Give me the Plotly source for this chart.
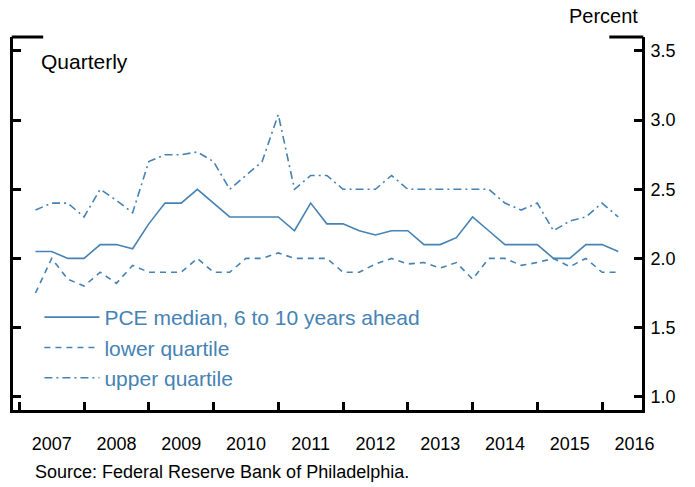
import plotly.graph_objects as go

# ---- data ----
quarters = ["2007Q2","2007Q3","2007Q4","2008Q1","2008Q2","2008Q3","2008Q4","2009Q1","2009Q2","2009Q3",
            "2009Q4","2010Q1","2010Q2","2010Q3","2010Q4","2011Q1","2011Q2","2011Q3","2011Q4","2012Q1",
            "2012Q2","2012Q3","2012Q4","2013Q1","2013Q2","2013Q3","2013Q4","2014Q1","2014Q2","2014Q3",
            "2014Q4","2015Q1","2015Q2","2015Q3","2015Q4","2016Q1","2016Q2"]
median = [2.05, 2.05, 2.00, 2.00, 2.10, 2.10, 2.07, 2.25, 2.40, 2.40,
          2.50, 2.40, 2.30, 2.30, 2.30, 2.30, 2.20, 2.40, 2.25, 2.25,
          2.20, 2.17, 2.20, 2.20, 2.10, 2.10, 2.15, 2.30, 2.20, 2.10,
          2.10, 2.10, 2.00, 2.00, 2.10, 2.10, 2.05]
lower = [1.75, 2.00, 1.85, 1.80, 1.90, 1.82, 1.95, 1.90, 1.90, 1.90,
         2.00, 1.90, 1.90, 2.00, 2.00, 2.04, 2.00, 2.00, 2.00, 1.90,
         1.90, 1.96, 2.00, 1.96, 1.97, 1.93, 1.97, 1.85, 2.00, 2.00,
         1.95, 1.97, 2.00, 1.94, 2.00, 1.90, 1.90]
upper = [2.35, 2.40, 2.40, 2.30, 2.50, 2.42, 2.33, 2.70, 2.75, 2.75,
         2.77, 2.70, 2.50, 2.60, 2.70, 3.04, 2.50, 2.60, 2.60, 2.50,
         2.50, 2.50, 2.60, 2.50, 2.50, 2.50, 2.50, 2.50, 2.50, 2.40,
         2.35, 2.40, 2.20, 2.27, 2.30, 2.40, 2.30]
years = list(range(2007, 2017))
year_labels = [str(y) for y in years]
y_ticks = [1.0, 1.5, 2.0, 2.5, 3.0, 3.5]
y_labels = ["1.0", "1.5", "2.0", "2.5", "3.0", "3.5"]

x = [int(q[:4]) + (int(q[-1]) - 1) / 4 for q in quarters]

BLUE = "#4682b4"
FONT = "Liberation Sans, Arial, sans-serif"

fig = go.Figure()
fig.add_trace(go.Scatter(x=x, y=median, mode="lines", name="PCE median, 6 to 10 years ahead",
                         line=dict(color=BLUE, width=1.6)))
fig.add_trace(go.Scatter(x=x, y=lower, mode="lines", name="lower quartile",
                         line=dict(color=BLUE, width=1.6, dash="6px,5px")))
fig.add_trace(go.Scatter(x=x, y=upper, mode="lines", name="upper quartile",
                         line=dict(color=BLUE, width=1.6, dash="8px,4px,2px,4px")))

XR = [2006.903, 2016.617]
YR = [0.904, 3.601]

fig.update_layout(
    width=695, height=487,
    margin=dict(l=13, r=53, t=37, b=77),
    paper_bgcolor="white", plot_bgcolor="white",
    font=dict(family=FONT, size=18, color="black"),
    showlegend=True,
    legend=dict(x=0.042, y=0.303, xanchor="left", yanchor="top",
                font=dict(size=21, color=BLUE, family=FONT),
                bgcolor="rgba(0,0,0,0)", itemwidth=55, tracegroupgap=0),
    xaxis=dict(range=XR, showgrid=False, zeroline=False,
               showline=True, linewidth=3, linecolor="black",
               tickvals=[y + 0.5 for y in years], ticktext=year_labels, ticks="",
               ticklabelstandoff=15, tickfont=dict(size=18),
               minor=dict(tickvals=years, ticks="inside", ticklen=8, tickwidth=3, tickcolor="black")),
    yaxis=dict(range=YR, side="right", showgrid=False, zeroline=False,
               showline=True, linewidth=3, linecolor="black",
               tickvals=y_ticks, ticktext=y_labels, ticks="inside", ticklen=8, tickwidth=3,
               tickcolor="black", ticklabelstandoff=2, tickfont=dict(size=18)),
    yaxis2=dict(range=YR, overlaying="y", side="left", showgrid=False, zeroline=False,
                showline=True, linewidth=3, linecolor="black",
                tickvals=y_ticks, ticks="inside", ticklen=8, tickwidth=3, tickcolor="black",
                showticklabels=False),
    shapes=[
        dict(type="line", xref="paper", yref="paper", x0=-0.002, x1=0.048, y0=1, y1=1,
             line=dict(color="black", width=3)),
        dict(type="line", xref="paper", yref="paper", x0=0.948, x1=1.002, y0=1, y1=1,
             line=dict(color="black", width=3)),
    ],
    annotations=[
        dict(text="Quarterly", x=0.042, y=0.933, xref="paper", yref="paper",
             xanchor="left", yanchor="middle", showarrow=False, font=dict(size=21, color="black")),
        dict(text="Percent", x=0.997, y=1.056, xref="paper", yref="paper",
             xanchor="right", yanchor="middle", showarrow=False, font=dict(size=20, color="black")),
        dict(text="Source: Federal Reserve Bank of Philadelphia.", x=0.0318, y=-0.166,
             xref="paper", yref="paper", xanchor="left", yanchor="middle", showarrow=False,
             font=dict(size=18, color="black")),
    ],
)
# empty trace to make sure the left axis is drawn
fig.add_trace(go.Scatter(x=[], y=[], yaxis="y2", showlegend=False, hoverinfo="skip"))

fig.write_html("out.html", config={"displayModeBar": False},
               post_script="document.body.style.margin='0';document.body.style.overflow='hidden';")
